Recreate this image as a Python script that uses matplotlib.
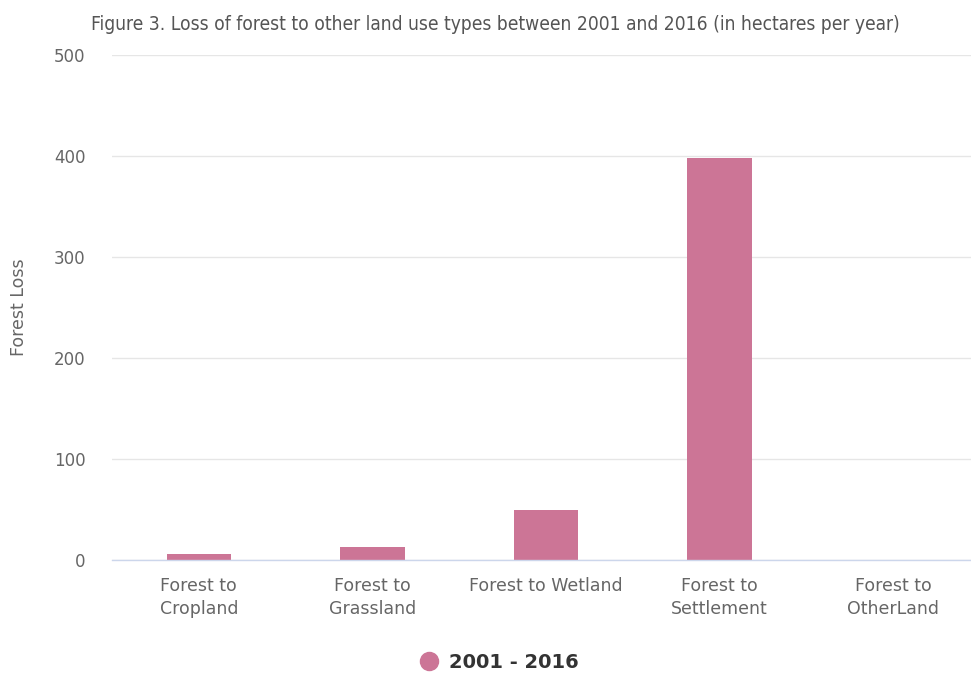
import matplotlib
matplotlib.use("Agg")
import matplotlib.pyplot as plt
from matplotlib.lines import Line2D

categories = ["Forest to\nCropland", "Forest to\nGrassland", "Forest to Wetland",
              "Forest to\nSettlement", "Forest to\nOtherLand"]
values = [6, 13, 50, 398, 0]
series_name = "2001 - 2016"
yticks = [0, 100, 200, 300, 400, 500]

W, H = 971, 673
fig = plt.figure(figsize=(W / 100, H / 100), dpi=100)
ax = fig.add_axes([112 / W, 1 - 560 / H, (980 - 112) / W, (560 - 55) / H])

color = "#cc7596"
font = "DejaVu Sans"
x = list(range(len(categories)))
ax.bar(x, values, width=0.37, color=color, zorder=3)
ax.set_xlim(-0.5, len(categories) - 0.5)
ax.set_ylim(0, 500)
ax.set_yticks(yticks)
ax.set_yticklabels([str(t) for t in yticks], fontsize=12, color="#666666", family=font)
ax.set_xticks(x)
ax.set_xticklabels(categories, fontsize=12.5, color="#666666", family=font, linespacing=1.35)
ax.tick_params(axis="both", length=0)
ax.tick_params(axis="y", pad=19)
ax.tick_params(axis="x", pad=12)
ax.grid(axis="y", color="#e6e6e6", linewidth=1, zorder=0)
for s in ["top", "right", "left"]:
    ax.spines[s].set_visible(False)
ax.spines["bottom"].set_color("#ccd6eb")
ax.spines["bottom"].set_linewidth(1)
ax.spines["bottom"].set_zorder(4)
ax.set_ylabel("Forest Loss", fontsize=12.5, color="#666666", family=font)
ax.yaxis.set_label_coords(-84 / 868, 0.5)

title = fig.text(495 / W, 1 - 24 / H,
                 "Figure 3. Loss of forest to other land use types between 2001 and 2016 (in hectares per year)",
                 ha="center", va="center", fontsize=16, color="#555555",
                 family=font, stretch="condensed")
fig.canvas.draw()
r = fig.canvas.get_renderer()
w = title.get_window_extent(r).width
title.set_fontsize(16 * 815 / w)

handle = Line2D([0], [0], marker="o", linestyle="none", markersize=13,
                markerfacecolor=color, markeredgecolor=color)
fig.legend([handle], [series_name], loc="center", bbox_to_anchor=(499 / W, 1 - 662 / H),
           frameon=False, prop={"family": font, "weight": "bold", "size": 14},
           labelcolor="#333333", handletextpad=0.5, handlelength=1.0)

fig.savefig("out.png", dpi=100)
